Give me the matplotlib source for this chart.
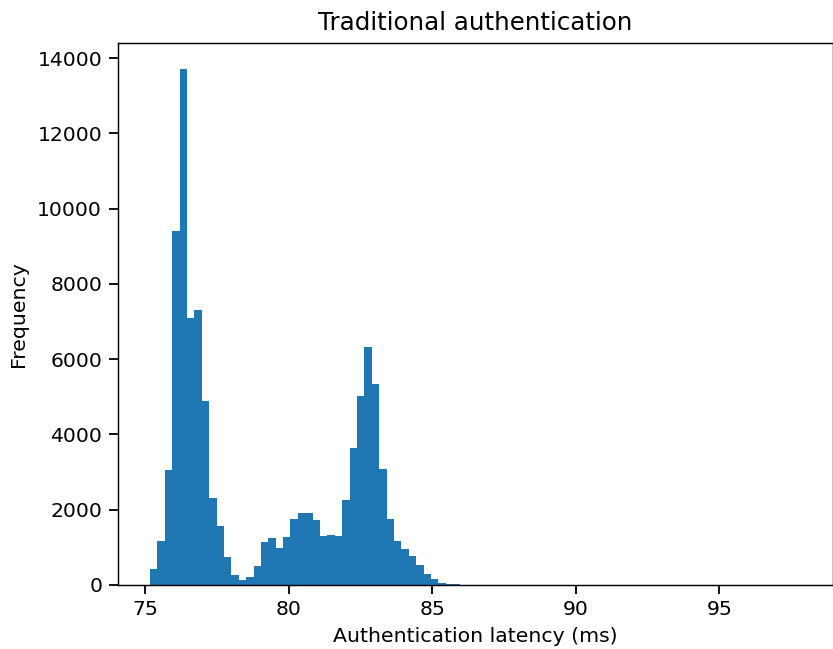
import numpy as np
import matplotlib
matplotlib.use("Agg")
import matplotlib.pyplot as plt

# Histogram data
bin_start = 75.164
bin_width = 0.2575
counts = [
    418, 1159, 3050, 9405, 13718, 7106, 7305, 4883, 2318, 1558,
    741, 266, 133, 209, 503, 1140, 1245, 980, 1268, 1750,
    1905, 1905, 1715, 1315, 1341, 1315, 2248, 3634, 5019, 6325,
    5339, 3074, 1741, 1182, 968, 782, 542, 302, 169, 62,
    36, 14, 7, 4, 3, 2, 1, 1, 0, 1,
    0, 0, 0, 1, 0, 0, 0, 0, 0, 0,
    0, 0, 0, 0, 0, 0, 0, 0, 0, 0,
    0, 0, 0, 0, 0, 0, 0, 0, 0, 0,
    0, 0, 0, 0, 0, 0, 0, 1,
]
title = "Traditional authentication"
xlabel = "Authentication latency (ms)"
ylabel = "Frequency"

edges = bin_start + bin_width * np.arange(len(counts) + 1)
centers = (edges[:-1] + edges[1:]) / 2

W, H, DPI = 833, 649, 130
fig = plt.figure(figsize=(W / DPI, H / DPI), dpi=DPI)
ax = fig.add_axes([117.5 / W, 1 - 585 / H, (833 - 117.5) / W, (585 - 43) / H])
ax.hist(centers, bins=edges, weights=counts, color="#1f77b4")
ax.set_title(title, fontsize=13.6, pad=7)
ax.set_xlabel(xlabel, fontsize=11.3, labelpad=4)
ax.set_ylabel(ylabel, fontsize=11.3, labelpad=5)
ax.tick_params(labelsize=11.3, length=5, width=1)
fig.savefig("out.png", dpi=DPI)
